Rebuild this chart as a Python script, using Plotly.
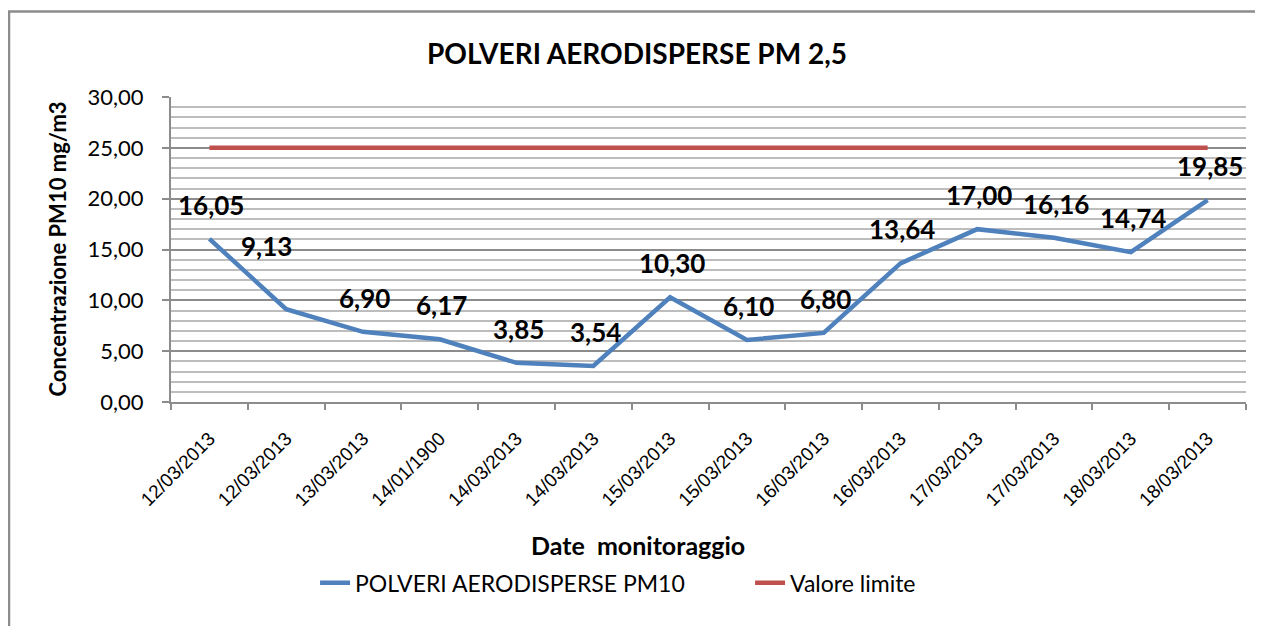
import plotly.graph_objects as go

dates = ["12/03/2013", "12/03/2013", "13/03/2013", "14/01/1900", "14/03/2013",
         "14/03/2013", "15/03/2013", "15/03/2013", "16/03/2013", "16/03/2013",
         "17/03/2013", "17/03/2013", "18/03/2013", "18/03/2013"]
pm_values = [16.05, 9.13, 6.90, 6.17, 3.85, 3.54, 10.30, 6.10, 6.80, 13.64,
             17.00, 16.16, 14.74, 19.85]
limit_values = [25] * len(dates)
y_ticks = [0, 5, 10, 15, 20, 25, 30]

x = list(range(len(dates)))
BLUE = "#4F81BD"
RED = "#C0504D"
GRID = "#8C8C8C"
CAL = "Lato, 'Open Sans', sans-serif"

fig = go.Figure()
fig.add_trace(go.Scatter(x=x, y=pm_values, mode="lines", name="POLVERI AERODISPERSE PM10",
                         line=dict(color=BLUE, width=4.5)))
fig.add_trace(go.Scatter(x=x, y=limit_values, mode="lines", name="Valore limite",
                         line=dict(color=RED, width=4.5)))

def fmt(v):
    return f"{v:.2f}".replace(".", ",")

for i, v in enumerate(pm_values):
    xs, ys = 2, 34
    if i == 1:
        xs, ys = -20, 63
    fig.add_annotation(x=i, y=v, text=fmt(v), showarrow=False, xshift=xs, yshift=ys,
                       xanchor="center", yanchor="middle",
                       font=dict(family=CAL, size=26, color="black", weight="bold"))

fig.add_annotation(x=0.4335, y=1.144, xref="paper", yref="paper", showarrow=False,
                   xanchor="center", yanchor="middle",
                   text="POLVERI AERODISPERSE PM 2,5",
                   font=dict(family=CAL, size=28, color="black", weight="bold"))
fig.add_annotation(x=0.4345, y=-0.469, xref="paper", yref="paper", showarrow=False,
                   xanchor="center", yanchor="middle",
                   text="Date  monitoraggio",
                   font=dict(family=CAL, size=25, color="black", weight="bold"))
fig.add_annotation(x=-0.106, y=0.5, xref="paper", yref="paper", showarrow=False,
                   xanchor="center", yanchor="middle",
                   text="Concentrazione PM10 mg/m3", textangle=-90,
                   font=dict(family=CAL, size=22, color="black", weight="bold"))

fig.add_shape(type="rect", xref="paper", yref="paper", x0=-0.1507, x1=1.015,
              y0=-0.95, y1=1.280, line=dict(color="#8C8C8C", width=2.5), layer="below")

fig.update_xaxes(range=[-0.5, len(dates) - 0.5], tickvals=x, ticktext=dates, tickangle=-45,
                 ticks="", showgrid=False, showline=True, linecolor=GRID, linewidth=2,
                 ticklabelstandoff=16,
                 tickfont=dict(family="'Liberation Sans', Arial, sans-serif", size=19, color="black"),
                 minor=dict(ticks="outside", tick0=-0.5, dtick=1, ticklen=6, tickcolor=GRID,
                            tickwidth=2, showgrid=False),
                 zeroline=False)
fig.update_yaxes(range=[0, 30], tickvals=y_ticks, ticktext=[fmt(v) for v in y_ticks],
                 ticks="outside", ticklen=7, tickcolor=GRID, tickwidth=2,
                 ticklabelstandoff=14,
                 showgrid=True, gridcolor=GRID, gridwidth=2,
                 minor=dict(dtick=1, showgrid=True, gridcolor="#BDBDBD", gridwidth=2),
                 showline=True, linecolor=GRID, linewidth=2, zeroline=False,
                 tickfont=dict(family=CAL, size=22, color="black"))

fig.update_layout(
    width=1255, height=618,
    margin=dict(l=163, r=17, t=89, b=224),
    paper_bgcolor="white", plot_bgcolor="white",
    showlegend=True,
    legend=dict(orientation="h", x=0.134, xanchor="left", y=-0.593, yanchor="middle",
                entrywidth=390, entrywidthmode="pixels",
                font=dict(family=CAL, size=23, color="black")),
)

fig.write_html("out.html")
